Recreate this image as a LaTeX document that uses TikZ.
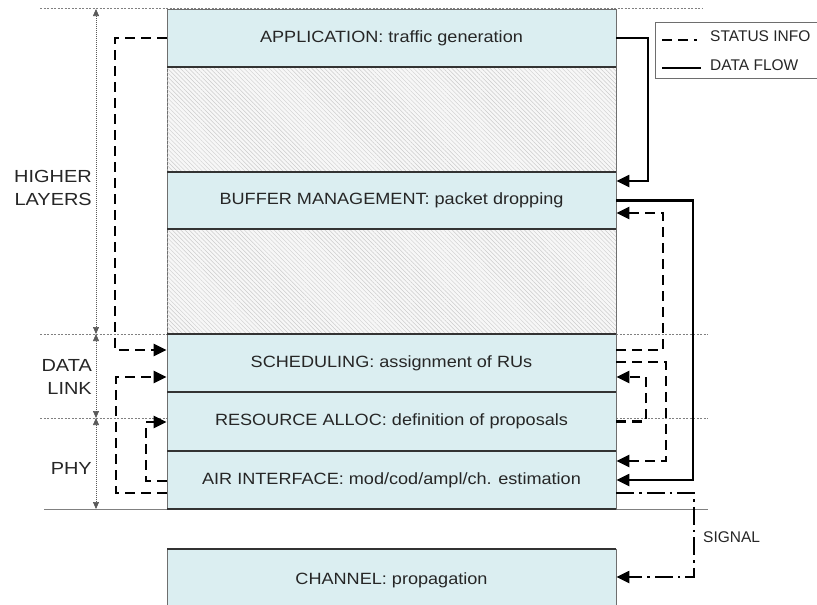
\documentclass[tikz,border=0pt]{standalone}
\usepackage{fontspec}
\setmainfont{Liberation Sans}
\newfontfamily\boxfont[FakeStretch=1.11]{Liberation Sans}
\newfontfamily\sidefont[FakeStretch=1.14]{Liberation Sans}
\usetikzlibrary{arrows.meta,patterns.meta}
\definecolor{boxfill}{RGB}{219,238,241}
\definecolor{edgegray}{RGB}{110,110,110}
\begin{document}
\begin{tikzpicture}[x=1pt,y=-1pt,
  layerbox/.style={draw=edgegray, line width=0.9pt, fill=boxfill, minimum width=449pt, inner sep=0pt,
    font=\boxfont\fontsize{16.3}{20}\selectfont, text=black!85},
  hatchbox/.style={draw=edgegray, line width=0.9pt, fill=gray!6,
    postaction={pattern={Lines[angle=-45,distance=3pt,line width=0.45pt]}, pattern color=gray!40}},
  sep/.style={line width=1.4pt, black!80},
  refline/.style={gray, line width=0.6pt, dash pattern=on 2pt off 1.5pt},
  dimline/.style={gray!70!black, line width=0.6pt, dash pattern=on 1pt off 1pt,
    {Triangle[length=7pt,width=6pt]}-{Triangle[length=7pt,width=6pt]}},
  tipend/.style={-{Triangle[length=13pt,width=12pt]}},
  statusline/.style={line width=2.6pt, dash pattern=on 10pt off 6pt},
  dataline/.style={line width=2.4pt},
  signalline/.style={line width=2.4pt, dash pattern=on 18pt off 5pt on 2.5pt off 5pt},
  sidelabel/.style={font=\sidefont\fontsize{17.5}{23}\selectfont, align=right, anchor=east, inner sep=0pt, text=black!85},
  smalllabel/.style={font=\fontsize{15.5}{18}\selectfont, anchor=west, inner sep=0pt, text=black!85}
]
\useasboundingbox (0,0) rectangle (817,605);

% reference lines
\draw[refline] (40,8) -- (702,8);
\draw[refline] (40,334) -- (167,334);
\draw[refline] (616,334) -- (708,334);
\draw[refline] (40,418) -- (167,418);
\draw[refline] (616,418) -- (708,418);
\draw[gray, line width=1pt] (44,509) -- (708,509);

% hatched regions
\path[hatchbox] (167,67) rectangle (616,172);
\path[hatchbox] (167,229) rectangle (616,334);

% layers
\node[layerbox, minimum height=58pt] (app) at (391.5,38) {APPLICATION: traffic generation};
\node[layerbox, minimum height=57pt] (buf) at (391.5,200.5) {BUFFER MANAGEMENT: packet dropping};
\node[layerbox, minimum height=58pt] (sch) at (391.5,363) {SCHEDULING: assignment of RUs};
\node[layerbox, minimum height=59pt] (res) at (391.5,421.5) {RESOURCE ALLOC: definition of proposals};
\node[layerbox, minimum height=58pt] (air) at (391.5,480) {AIR INTERFACE: mod/cod/ampl/ch. estimation};
\node[layerbox, minimum height=62pt] (chan) at (391.5,580) {CHANNEL: propagation};

% separators
\foreach \yy in {67,172,229,334,392,451,509}
  \draw[sep] (167,\yy) -- (616,\yy);
\draw[sep] (167,549) -- (616,549);

% side dimensions
\coordinate (d0) at (96,9);
\coordinate (d1) at (96,334);
\coordinate (d2) at (96,418);
\coordinate (d3) at (96,509);
\draw[dimline] (d1) -- (d0);
\draw[dimline] (d1) -- (d2);
\draw[dimline] (d2) -- (d3);
\node[sidelabel] (hl) at (92,188) {HIGHER\\LAYERS};
\node[sidelabel] (dl) at (92,377) {DATA\\LINK};
\node[sidelabel] (phy) at (92,468) {PHY};

% left status arrows
\draw[statusline, tipend] (app.west) -| (115,350) -- (sch.west |- 0,350);
\draw[statusline, tipend] (air.west |- 0,493) -| (116,377) -- (sch.west |- 0,377);
\draw[statusline, tipend] (air.west |- 0,481) -| (146,422) -- (res.west |- 0,422);

% right data arrows
\draw[dataline, tipend] (app.east) -| (648,181) -- (buf.east |- 0,181);
\draw[dataline, tipend] (buf.east) -| (693,480) -- (air.east |- 0,480);

% right status arrows
\draw[statusline, tipend] (sch.east |- 0,350) -| (663,213) -- (buf.east |- 0,213);
\draw[statusline, tipend] (sch.east |- 0,362) -| (666,461) -- (air.east |- 0,461);
\draw[statusline, tipend] (res.east) -| (646,377) -- (sch.east |- 0,377);

% signal
\draw[signalline, tipend] (air.east |- 0,493) -| (694,577) -- (chan.east |- 0,577);
\node[smalllabel] (sig) at (703,537) {SIGNAL};

% legend
\draw[edgegray, line width=0.8pt, fill=white] (655,22) rectangle (830,78);
\node[smalllabel] (lst) at (710,36) {STATUS INFO};
\node[smalllabel] (ldf) at (710,65) {DATA FLOW};
\coordinate (ls0) at (662,40);
\coordinate (ld0) at (662,68);
\draw[statusline, dash pattern=on 10pt off 6pt on 10pt off 6pt on 2.5pt off 10pt] (ls0) -- ([xshift=-6pt]ls0 -| lst.west);
\draw[dataline] (ld0) -- ([xshift=-9pt]ld0 -| ldf.west);
\end{tikzpicture}
\end{document}
